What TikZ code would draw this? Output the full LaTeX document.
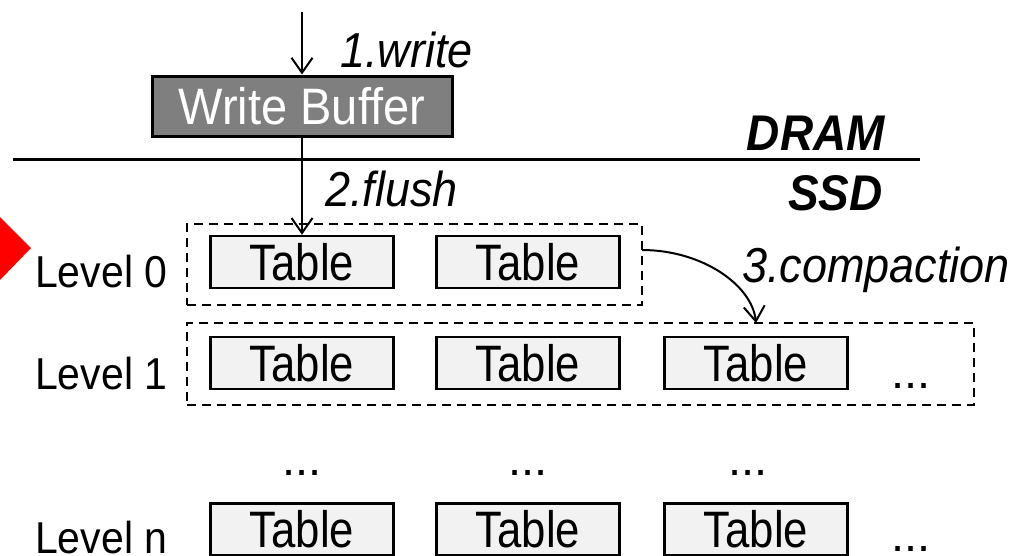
\documentclass[tikz,border=0pt]{standalone}
\usepackage{fontspec}
\setmainfont{Liberation Sans}
\usetikzlibrary{arrows.meta}
\definecolor{tablegray}{HTML}{F2F2F2}
\definecolor{buffergray}{HTML}{7F7F7F}
\newcommand{\fsz}[1]{\fontsize{#1}{#1}\selectfont}
% text in the figure is set slightly taller than the plain font
\newcommand{\tall}[1]{\scalebox{1}[1.09]{#1}}
\newcommand{\tbl}{\scalebox{0.93}[1.09]{Table}}
\begin{document}
\begin{tikzpicture}[x=1pt,y=-1pt,
  tablebox/.style={draw=black, line width=2.5pt, fill=tablegray,
    minimum width=183pt, minimum height=52pt, inner sep=0pt, font=\fsz{47}},
  levelbox/.style={draw=black, line width=2.5pt, dash pattern=on 9pt off 6pt,
    inner sep=0pt},
  flow/.style={line width=2pt, -{Straight Barb[length=15pt,width=21pt]}},
  steplbl/.style={anchor=base west, inner sep=0pt, font=\fsz{45}\itshape},
  levellbl/.style={anchor=base west, inner sep=0pt, font=\fsz{41}},
  memlbl/.style={anchor=base east, inner sep=0pt, font=\fsz{46}\bfseries\itshape},
  dots/.style={anchor=base, inner sep=0pt, font=\fsz{47}}
]
\useasboundingbox (0,0) rectangle (1030,555);
\clip (0,0) rectangle (1030,555);

% marker on the left edge
\fill[red] (0,217) -- (31,248) -- (0,280) -- cycle;

% write buffer in DRAM
\node[draw=black, line width=3pt, fill=buffergray, text=white,
  minimum width=300pt, minimum height=60pt, inner sep=0pt, font=\fsz{47}]
  (wb) at (302,106) {\tall{Write Buffer}};

% DRAM / SSD divider
\coordinate (divl) at (13,159);
\coordinate (divr) at (920,159);
\draw[line width=3pt] (divl) -- (divr);
\node[memlbl] (dram) at (885,150) {\tall{DRAM}};
\node[memlbl] (ssd) at (883,210) {\tall{SSD}};

% level boundaries
\node[levelbox, minimum width=455pt, minimum height=81pt] (lv0) at (414.5,264.5) {};
\node[levelbox, minimum width=787pt, minimum height=82pt] (lv1) at (580.5,364) {};

% tables
\node[tablebox] (t01) at (302,262) {\tbl};
\node[tablebox] (t02) at (528,262) {\tbl};
\node[tablebox] (t11) at (302,363) {\tbl};
\node[tablebox] (t12) at (528,363) {\tbl};
\node[tablebox] (t13) at (756,363) {\tbl};
\node[tablebox] (tn1) at (302,529.5) {\tbl};
\node[tablebox] (tn2) at (528,529.5) {\tbl};
\node[tablebox] (tn3) at (756,529.5) {\tbl};

% level names
\node[levellbl] (lab0) at (35,287) {\tall{Level 0}};
\node[levellbl] (lab1) at (35,389) {\tall{Level 1}};
\node[levellbl] (labn) at (35,553) {\tall{Level n}};

% ellipses
\node[dots] (d1) at (911,388) {...};
\node[dots] (dm1) at (302,475) {...};
\node[dots] (dm2) at (528,475) {...};
\node[dots] (dm3) at (748,475) {...};
\node[dots] (dn) at (911,551) {...};

% data flow
\coordinate (src) at (302,12);
\draw[flow] (src) -- (wb.north);
\node[steplbl] (wlbl) at (340,67) {\tall{1.write}};
\draw[flow] (wb.south) -- (t01.north);
\node[steplbl] (flbl) at (325,206) {\tall{2.flush}};
\coordinate (cstart) at (642,250);
\coordinate (cend) at (756,323);
\draw[flow] (cstart) .. controls (702,250) and (752,285) .. (cend);
\node[steplbl] (clbl) at (742,282) {\tall{3.compaction}};
\end{tikzpicture}
\end{document}
